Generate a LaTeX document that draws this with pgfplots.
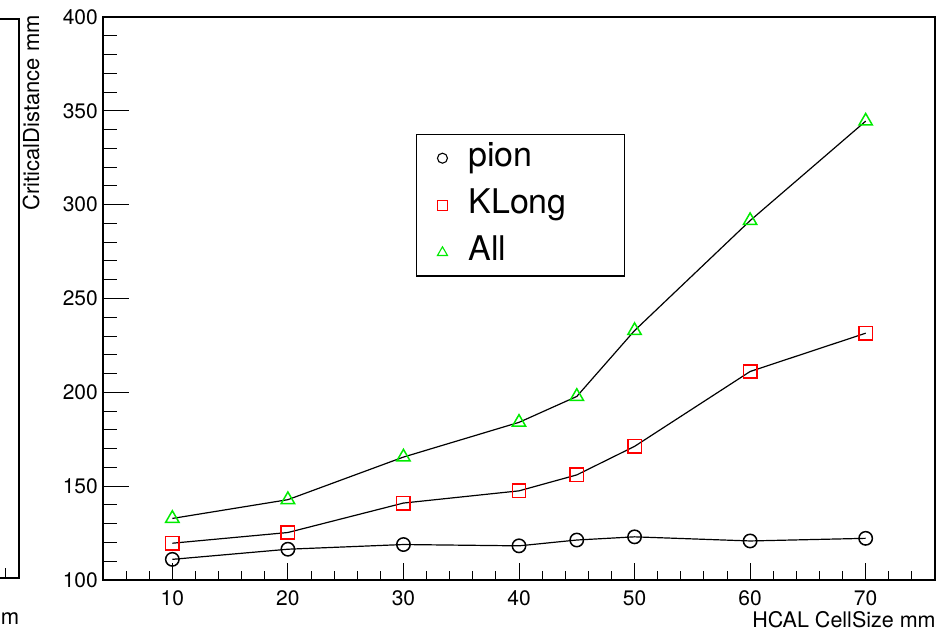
\documentclass[border=0pt]{standalone}
\usepackage{fontspec}
\setmainfont{TeX Gyre Heros}
\usepackage{pgfplots}
\pgfplotsset{compat=1.18}
\definecolor{rred}{RGB}{255,0,0}
\definecolor{rgreen}{RGB}{0,235,0}
\begin{document}
\begin{tikzpicture}[x=1pt,y=1pt]
% fragment of neighbouring pad
\draw[line width=1.2pt] (0,612) -- (19,612) -- (19,53) -- (0,53);
\draw[line width=1pt] (5,53) -- (5,63);
\node[anchor=east, inner sep=0pt, font=\fontsize{22}{22}\selectfont] at (19.5,12) {m};

\begin{axis}[
  at={(103pt,51pt)}, anchor=south west, scale only axis,
  width=832pt, height=563pt,
  xmin=4, xmax=76, ymin=100, ymax=400,
  axis line style={line width=1.2pt},
  tick align=inside, xtick pos=lower, ytick=\empty,
  xtick={10,20,...,70}, minor xtick={6,8,...,74},
  major tick length=17pt, minor tick length=9pt,
  every tick/.style={line width=1pt, black},
  every minor tick/.style={line width=1pt, black},
  /pgf/number format/assume math mode=true,
  xticklabel style={font=\fontsize{21}{21}\selectfont, inner sep=0pt, anchor=north, yshift=-10.5pt},
  xlabel={HCAL CellSize mm},
  every axis x label/.style={at={(axis description cs:1.001,-0.0548)}, anchor=north east, inner sep=0pt, font=\fontsize{21.5}{21.5}\selectfont},
  ylabel={CriticalDistance mm},
  every axis y label/.style={at={(axis description cs:-0.0865,1.0036)}, rotate=90, anchor=east, inner sep=0pt, font=\fontsize{22}{22}\selectfont},
  legend image code/.code={\draw[#1] plot coordinates {(0pt,0pt)};},
  legend cell align=left,
  legend style={at={(axis description cs:0.376,0.792)}, anchor=north west,
    draw=black, line width=1.2pt, fill=white,
    inner xsep=21pt, inner ysep=7.5pt, row sep=15.2pt, column sep=21pt,
    font=\fontsize{34}{34}\selectfont,
    nodes={inner sep=0pt, text height=24pt, text depth=8pt, text width=135pt}},
]
\addplot[forget plot, black, line width=1.2pt, mark=o, mark size=6.7pt, mark options={black, line width=1.5pt}] coordinates {
(10,111.0)(20,116.4)(30,118.9)(40,118.2)(45,121.3)(50,123.0)(60,120.8)(70,122.2)};
\addplot[forget plot, black, line width=1.2pt, mark=square, mark size=6.7pt, mark options={draw=rred, line width=1.5pt}] coordinates {
(10,119.6)(20,125.3)(30,141.0)(40,147.5)(45,156.0)(50,171.2)(60,211.1)(70,231.5)};
\addplot[forget plot, black, line width=1.2pt, mark=triangle, mark size=7.7pt, mark options={draw=rgreen, line width=1.5pt}] coordinates {
(10,132.8)(20,142.8)(30,165.5)(40,184.0)(45,197.8)(50,232.9)(60,291.5)(70,344.5)};
\addlegendimage{only marks, mark=o, mark size=5pt, draw=black, line width=1.1pt}
\addlegendentry{pion}
\addlegendimage{only marks, mark=square, mark size=5pt, draw=rred, line width=1.1pt}
\addlegendentry{KLong}
\addlegendimage{only marks, mark=triangle, mark size=5.8pt, draw=rgreen, line width=1.1pt}
\addlegendentry{All}
\end{axis}

\begin{axis}[
  at={(103pt,51pt)}, anchor=south west, scale only axis,
  width=832pt, height=563pt,
  xmin=4, xmax=76, ymin=100, ymax=400,
  axis line style={line width=1.2pt},
  tick align=inside, ytick pos=left, xtick=\empty,
  ytick={100,150,...,400}, minor ytick={110,120,...,390},
  major tick length=26pt, minor tick length=14pt,
  every tick/.style={line width=1pt, black},
  every minor tick/.style={line width=1pt, black},
  /pgf/number format/assume math mode=true,
  yticklabel style={font=\fontsize{21}{21}\selectfont, inner sep=0pt, anchor=east, xshift=-5pt},
]
\end{axis}
\pgfresetboundingbox
\path[use as bounding box] (0,0) rectangle (944,631);
\end{tikzpicture}
\end{document}
